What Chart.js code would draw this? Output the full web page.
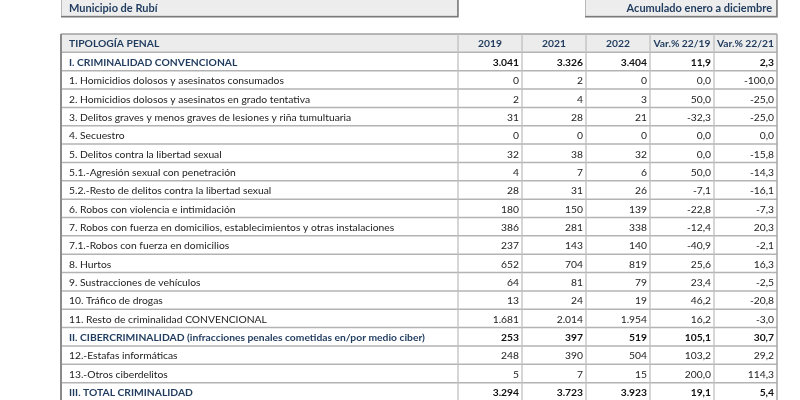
<!DOCTYPE html>
<html>
<head>
<meta charset="utf-8">
<script src="https://cdn.jsdelivr.net/npm/chart.js@4.4.0/dist/chart.umd.min.js"></script>
<style>
  html, body { margin: 0; padding: 0; background: #fff; overflow: hidden; }
</style>
</head>
<body>
<canvas id="tablaDelitos" width="800" height="401"></canvas>
<script>

// --- datos ---
var municipio = "Municipio de Rubí";
var periodo = "Acumulado enero a diciembre";
var cabecera = "TIPOLOGÍA PENAL";
var columnas = ["2019", "2021", "2022", "Var.% 22/19", "Var.% 22/21"];

var tipologia = [
    "I. CRIMINALIDAD CONVENCIONAL",
    "1. Homicidios dolosos y asesinatos consumados",
    "2. Homicidios dolosos y asesinatos en grado tentativa",
    "3. Delitos graves y menos graves de lesiones y riña tumultuaria",
    "4. Secuestro",
    "5. Delitos contra la libertad sexual",
    "5.1.-Agresión sexual con penetración",
    "5.2.-Resto de delitos contra la libertad sexual",
    "6. Robos con violencia e intimidación",
    "7. Robos con fuerza en domicilios, establecimientos y otras instalaciones",
    "7.1.-Robos con fuerza en domicilios",
    "8. Hurtos",
    "9. Sustracciones de vehículos",
    "10. Tráfico de drogas",
    "11. Resto de criminalidad CONVENCIONAL",
    "II. CIBERCRIMINALIDAD (infracciones penales cometidas en/por medio ciber)",
    "12.-Estafas informáticas",
    "13.-Otros ciberdelitos",
    "III. TOTAL CRIMINALIDAD"
];
var anio2019 = [3041, 0, 2, 31, 0, 32, 4, 28, 180, 386, 237, 652, 64, 13, 1681, 253, 248, 5, 3294];
var anio2021 = [3326, 2, 4, 28, 0, 38, 7, 31, 150, 281, 143, 704, 81, 24, 2014, 397, 390, 7, 3723];
var anio2022 = [3404, 0, 3, 21, 0, 32, 6, 26, 139, 338, 140, 819, 79, 19, 1954, 519, 504, 15, 3923];
var var2219 = [11.9, 0.0, 50.0, -32.3, 0.0, 0.0, 50.0, -7.1, -22.8, -12.4, -40.9, 25.6, 23.4, 46.2, 16.2, 105.1, 103.2, 200.0, 19.1];
var var2221 = [2.3, -100.0, -25.0, -25.0, 0.0, -15.8, -14.3, -16.1, -7.3, 20.3, -2.1, 16.3, -2.5, -20.8, -3.0, 30.7, 29.2, 114.3, 5.4];

// --- maquetacion ---
var bordes = [61, 458, 522, 586, 650, 714, 777];   // bordes de columna (unidades del eje x)
var AZUL = "#1f3b5e";
var FUENTE = "Lato";
var TAM = 10.3;

function fmtEntero(n) {
    return String(n).replace(/\B(?=(\d{3})+(?!\d))/g, ".");
}
function fmtPct(n) {
    return n.toFixed(1).replace(".", ",");
}
function esTotal(txt) {
    return /^[IV]+\./.test(txt);
}

function texto(ctx, t, x, y, negrita, tam) {
    ctx.font = (negrita ? "bold " : "") + (tam || TAM) + "px " + FUENTE;
    ctx.fillText(t, x, y);
}

var tablaPlugin = {
    id: "tabla",
    afterDraw: function(chart) {
        var ctx = chart.ctx,
            sx = chart.scales.x,
            sy = chart.scales.y;
        var px = function(v) { return sx.getPixelForValue(v); };
        var alto = sy.getPixelForValue(1) - sy.getPixelForValue(0);
        var arriba = function(i) { return sy.getPixelForValue(i) - alto / 2; };
        var n = chart.data.labels.length;
        var L = px(bordes[0]), R = px(bordes[bordes.length - 1]);
        var fondo = arriba(n);

        ctx.save();

        // cajas superiores
        var cajaAbajo = arriba(0) - alto + 1;
        var cajas = [
            [px(bordes[0]), px(bordes[1]), cajaAbajo - alto - 3],
            [px(bordes[3]) - 1, px(bordes[6]), cajaAbajo - alto + 0.5]
        ];
        cajas.forEach(function(c) {
            ctx.fillStyle = "#ededed";
            ctx.fillRect(c[0], c[2], c[1] - c[0], cajaAbajo - c[2]);
            ctx.strokeStyle = "#b8b8b8";
            ctx.lineWidth = 1;
            ctx.strokeRect(c[0] + 0.5, c[2] + 0.5, c[1] - c[0] - 1, cajaAbajo - c[2] - 1);
            ctx.strokeStyle = "#7a7a7a";
            ctx.lineWidth = 1.5;
            ctx.beginPath();
            ctx.moveTo(c[0], cajaAbajo);
            ctx.lineTo(c[1], cajaAbajo);
            ctx.lineTo(c[1], c[2]);
            ctx.stroke();
        });
        ctx.fillStyle = AZUL;
        ctx.textBaseline = "middle";
        ctx.textAlign = "left";
        texto(ctx, municipio, px(bordes[0]) + 8, cajaAbajo - alto / 2 + 0.5, true, 11);
        ctx.textAlign = "right";
        texto(ctx, periodo, px(bordes[6]) - 5, cajaAbajo - alto / 2 + 0.5, true, 11);

        // fondo de la cabecera
        ctx.fillStyle = "#ececec";
        ctx.fillRect(L, arriba(0), R - L, alto);

        // lineas horizontales
        ctx.strokeStyle = "#b3b3b3";
        ctx.lineWidth = 1.5;
        for (var i = 1; i <= n; i++) {
            ctx.beginPath();
            ctx.moveTo(L, arriba(i));
            ctx.lineTo(R, arriba(i));
            ctx.stroke();
        }
        ctx.strokeStyle = "#a0a0a0";
        ctx.beginPath();
        ctx.moveTo(L, arriba(0));
        ctx.lineTo(R, arriba(0));
        ctx.stroke();

        // lineas verticales
        ctx.strokeStyle = "#c0c0c0";
        ctx.lineWidth = 1.3;
        for (var j = 1; j < bordes.length - 1; j++) {
            ctx.beginPath();
            ctx.moveTo(px(bordes[j]), arriba(0));
            ctx.lineTo(px(bordes[j]), fondo);
            ctx.stroke();
        }
        ctx.strokeStyle = "#8a8a8a";
        ctx.lineWidth = 2;
        ctx.beginPath();
        ctx.moveTo(L, arriba(0));
        ctx.lineTo(L, fondo);
        ctx.stroke();
        ctx.strokeStyle = "#a6a6a6";
        ctx.lineWidth = 1.5;
        ctx.beginPath();
        ctx.moveTo(R, arriba(0));
        ctx.lineTo(R, fondo);
        ctx.stroke();

        // cabecera
        var yc = sy.getPixelForValue(0) + 1;
        ctx.fillStyle = AZUL;
        ctx.textAlign = "left";
        texto(ctx, cabecera, L + 8, yc, true);
        ctx.textAlign = "center";
        columnas.forEach(function(c, k) {
            texto(ctx, c, (px(bordes[k + 1]) + px(bordes[k + 2])) / 2, yc, true);
        });

        // filas
        var series = [anio2019, anio2021, anio2022, var2219, var2221];
        tipologia.forEach(function(txt, r) {
            var y = sy.getPixelForValue(r + 1) + 1;
            var total = esTotal(txt);
            ctx.textAlign = "left";
            ctx.fillStyle = total ? AZUL : "#222";
            texto(ctx, txt, L + 8, y, total);
            ctx.textAlign = "right";
            ctx.fillStyle = total ? "#111" : "#222";
            series.forEach(function(s, k) {
                var t = k < 3 ? fmtEntero(s[r]) : fmtPct(s[r]);
                texto(ctx, t, px(bordes[k + 2]) - 3, y, total);
            });
        });

        ctx.restore();
    }
};

var tabla = new Chart(document.getElementById("tablaDelitos"), {
    type: "bar",
    data: {
        labels: [cabecera].concat(tipologia),
        datasets: []
    },
    options: {
        responsive: false,
        animation: false,
        events: [],
        layout: {
            padding: { top: 34, bottom: 0, left: 0, right: 0 }
        },
        scales: {
            x: { type: "linear", min: 0, max: 800, offset: false, display: false },
            y: { type: "category", offset: true, display: false }
        },
        plugins: {
            legend: { display: false },
            tooltip: { enabled: false }
        }
    },
    plugins: [tablaPlugin]
});

</script>
</body>
</html>
